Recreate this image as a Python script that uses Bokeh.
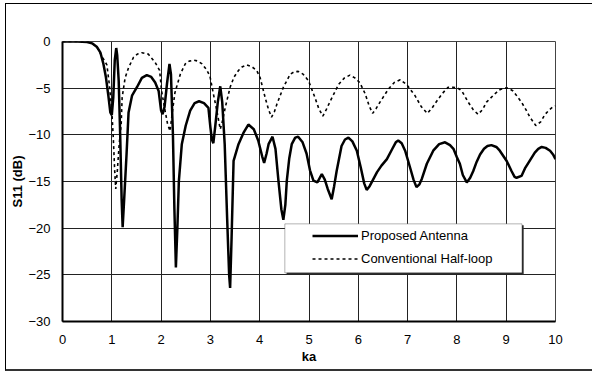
from bokeh.plotting import figure
from bokeh.models import Legend, LegendItem, BoxAnnotation, FixedTicker, Range1d, InlineStyleSheet
from bokeh.embed import file_html
from bokeh.resources import INLINE

# ---- data ----
prop_x = [0.0, 0.3, 0.5, 0.6, 0.7, 0.77, 0.83, 0.88, 0.93, 0.97, 1.00, 1.03, 1.06, 1.09, 1.11,
          1.14, 1.17, 1.20, 1.22, 1.25, 1.30, 1.34, 1.41, 1.51, 1.61, 1.71, 1.80, 1.88, 1.95,
          2.00, 2.03, 2.07, 2.12, 2.17, 2.20, 2.24, 2.27, 2.30, 2.33, 2.36, 2.42, 2.50, 2.59,
          2.68, 2.77, 2.87, 2.96, 3.00, 3.03, 3.06, 3.10, 3.15, 3.20, 3.24, 3.29, 3.34, 3.38,
          3.40, 3.43, 3.47, 3.57, 3.67, 3.77, 3.88, 3.97, 4.05, 4.09, 4.14, 4.18, 4.26, 4.32,
          4.38, 4.44, 4.48, 4.52, 4.55, 4.60, 4.65, 4.72, 4.78, 4.87, 4.95, 5.02, 5.09, 5.17,
          5.26, 5.32, 5.38, 5.46, 5.51, 5.56, 5.66, 5.73, 5.80, 5.88, 5.97, 6.05, 6.12, 6.17,
          6.23, 6.30, 6.38, 6.47, 6.58, 6.68, 6.76, 6.81, 6.88, 6.95, 7.05, 7.12, 7.18, 7.24,
          7.29, 7.39, 7.52, 7.64, 7.76, 7.86, 7.93, 8.00, 8.06, 8.12, 8.20, 8.27, 8.33, 8.40,
          8.47, 8.55, 8.62, 8.70, 8.80, 8.87, 9.01, 9.11, 9.17, 9.21, 9.31, 9.38, 9.45, 9.58,
          9.65, 9.72, 9.80, 9.89, 9.95, 10.0]
prop_y = [0.0, 0.0, -0.05, -0.2, -0.6, -1.2, -2.4, -3.8, -5.8, -7.6, -7.9, -6.0, -2.0, -0.7, -1.5,
          -4.2, -10.0, -17.0, -19.9, -17.0, -12.0, -7.6, -5.8, -4.9, -3.9, -3.6, -3.8, -4.4, -5.3,
          -7.4, -7.8, -7.0, -4.5, -2.4, -3.5, -10.0, -18.0, -24.2, -20.0, -15.0, -11.0, -9.0, -7.4,
          -6.6, -6.4, -6.6, -7.1, -9.2, -10.5, -10.9, -9.0, -6.5, -4.8, -6.5, -11.0, -19.0, -25.0,
          -26.4, -21.0, -12.8, -11.0, -9.8, -8.9, -9.4, -10.6, -12.3, -13.0, -12.0, -11.0, -10.2, -11.5,
          -14.9, -18.0, -19.1, -17.5, -14.9, -12.5, -11.0, -10.3, -10.2, -10.8, -12.0, -13.8, -14.9, -15.1,
          -14.2, -14.8, -15.8, -16.9, -15.5, -13.9, -11.2, -10.5, -10.3, -10.7, -11.7, -13.5, -15.2, -15.9,
          -15.5, -14.8, -14.0, -13.3, -12.6, -11.6, -10.8, -10.6, -10.9, -11.7, -13.5, -14.8, -15.6, -15.3,
          -14.7, -13.1, -11.7, -11.0, -10.8, -11.1, -11.5, -12.4, -13.1, -14.3, -15.1, -14.6, -13.9, -12.9,
          -12.1, -11.5, -11.2, -11.1, -11.3, -11.7, -12.8, -13.9, -14.5, -14.6, -14.4, -13.6, -13.0, -11.9,
          -11.5, -11.3, -11.4, -11.7, -12.1, -12.6]

conv_x = [0.0, 0.5, 0.6, 0.70, 0.80, 0.90, 0.95, 1.00, 1.03, 1.06, 1.08, 1.11, 1.15, 1.19, 1.21,
          1.27, 1.34, 1.44, 1.52, 1.61, 1.74, 1.88, 1.97, 2.01, 2.08, 2.13, 2.18, 2.23, 2.28,
          2.39, 2.49, 2.57, 2.66, 2.75, 2.83, 2.92, 2.99, 3.06, 3.13, 3.20, 3.25, 3.30, 3.40,
          3.48, 3.57, 3.65, 3.74, 3.84, 3.94, 4.01, 4.11, 4.18, 4.24, 4.30, 4.35, 4.48, 4.62,
          4.70, 4.78, 4.88, 4.99, 5.12, 5.20, 5.28, 5.35, 5.43, 5.60, 5.72, 5.83, 5.93, 6.03,
          6.14, 6.22, 6.29, 6.36, 6.44, 6.61, 6.73, 6.85, 6.98, 7.15, 7.28, 7.40, 7.50, 7.59,
          7.70, 7.82, 7.92, 8.02, 8.10, 8.23, 8.33, 8.43, 8.52, 8.60, 8.77, 8.86, 8.94, 9.04,
          9.14, 9.31, 9.40, 9.48, 9.60, 9.70, 9.79, 9.88, 9.95, 10.0]
conv_y = [0.0, 0.0, -0.2, -0.6, -1.6, -2.5, -4.6, -7.4, -10.3, -14.0, -15.8, -14.0, -11.0, -8.9, -6.0,
          -3.9, -2.8, -1.7, -1.35, -1.2, -1.35, -2.25, -3.1, -5.3, -7.4, -8.8, -9.6, -7.5, -5.5,
          -3.5, -2.4, -2.1, -2.0, -2.1, -2.4, -3.0, -3.7, -5.6, -7.4, -9.4, -8.4, -7.1, -4.9,
          -3.8, -3.1, -2.7, -2.5, -2.7, -3.1, -3.9, -6.0, -7.3, -8.1, -7.5, -6.7, -4.9, -3.5,
          -3.25, -3.2, -3.5, -4.2, -6.0, -7.2, -8.0, -7.3, -6.4, -4.6, -3.9, -3.6, -3.9, -4.4,
          -5.6, -6.9, -7.7, -7.2, -6.5, -5.1, -4.4, -4.1, -4.6, -5.8, -7.0, -7.7, -7.1, -6.4,
          -5.6, -4.9, -4.9, -5.0, -5.3, -6.5, -7.3, -7.8, -7.3, -6.5, -5.6, -5.2, -5.0, -5.0,
          -5.3, -6.5, -7.3, -8.1, -9.0, -8.6, -7.8, -7.3, -7.0, -6.9]

x_ticks = [0, 1, 2, 3, 4, 5, 6, 7, 8, 9, 10]
y_ticks = [0, -5, -10, -15, -20, -25, -30]
series_names = ["Proposed Antenna", "Conventional Half-loop"]

FONT = "Liberation Sans"

# outer chart border drawn with CSS (left, top, bottom edges visible; right edge off-page)
border_css = InlineStyleSheet(css="""
:host { position: relative; overflow: hidden; }
:host::after {
  content: "";
  position: absolute;
  left: 5px; top: 3px; right: -20px; bottom: 2px;
  border-left: 1px solid #000;
  border-top: 1px solid #000;
  border-bottom: 2px solid #333;
  pointer-events: none;
  z-index: 10;
}
""")

p = figure(width=592, height=373, output_backend="svg", toolbar_location=None,
           x_range=Range1d(0, 10), y_range=Range1d(-30, 0),
           min_border_left=62, min_border_right=37, min_border_top=41, min_border_bottom=52,
           background_fill_color="white", border_fill_color="white",
           stylesheets=[border_css])

# grid
p.xgrid.ticker = FixedTicker(ticks=x_ticks)
p.ygrid.ticker = FixedTicker(ticks=y_ticks)
p.xgrid.grid_line_color = "#222222"
p.ygrid.grid_line_color = "#222222"
p.xgrid.grid_line_width = 1
p.ygrid.grid_line_width = 1
p.outline_line_color = "#444444"
p.outline_line_width = 1

# axes
for ax in (p.xaxis[0], p.yaxis[0]):
    ax.major_tick_in = 0
    ax.major_tick_out = 0
    ax.minor_tick_line_color = None
    ax.axis_line_color = "black"
    ax.axis_line_width = 2
    ax.major_label_text_font = FONT
    ax.major_label_text_font_size = "13px"
    ax.major_label_text_color = "black"
    ax.axis_label_text_font = FONT
    ax.axis_label_text_font_size = "13px"
    ax.axis_label_text_font_style = "bold"
    ax.axis_label_text_color = "black"

p.xaxis.ticker = FixedTicker(ticks=x_ticks)
p.yaxis.ticker = FixedTicker(ticks=y_ticks)
p.xaxis.axis_label = "ka"
p.yaxis.axis_label = "S11 (dB)"
p.xaxis.major_label_standoff = 13
p.yaxis.major_label_standoff = 12
p.xaxis.axis_label_standoff = 2
p.yaxis.axis_label_standoff = 0

r_conv = p.line(conv_x, conv_y, line_color="black", line_width=1.6, line_dash="3 3")
r_prop = p.line(prop_x, prop_y, line_color="black", line_width=2.5)

# legend box
leg_shadow = BoxAnnotation(left=4.545, right=9.355, top=-19.70, bottom=-24.95,
                           fill_color="#333333", fill_alpha=1, line_alpha=0)
leg_box = BoxAnnotation(left=4.51, right=9.32, top=-19.54, bottom=-24.79,
                        fill_color="white", fill_alpha=1, line_color="black", line_width=1)
p.add_layout(leg_shadow)
p.add_layout(leg_box)

legend = Legend(items=[LegendItem(label=series_names[0], renderers=[r_prop]),
                       LegendItem(label=series_names[1], renderers=[r_conv])],
                location=(247, 49), padding=3, spacing=2, margin=0,
                glyph_width=46, glyph_height=21, label_height=21, label_standoff=3,
                label_text_font=FONT, label_text_font_size="13px", label_text_color="black",
                border_line_alpha=0, background_fill_alpha=0)
p.add_layout(legend)

open("out.html", "w").write(file_html(p, INLINE))
